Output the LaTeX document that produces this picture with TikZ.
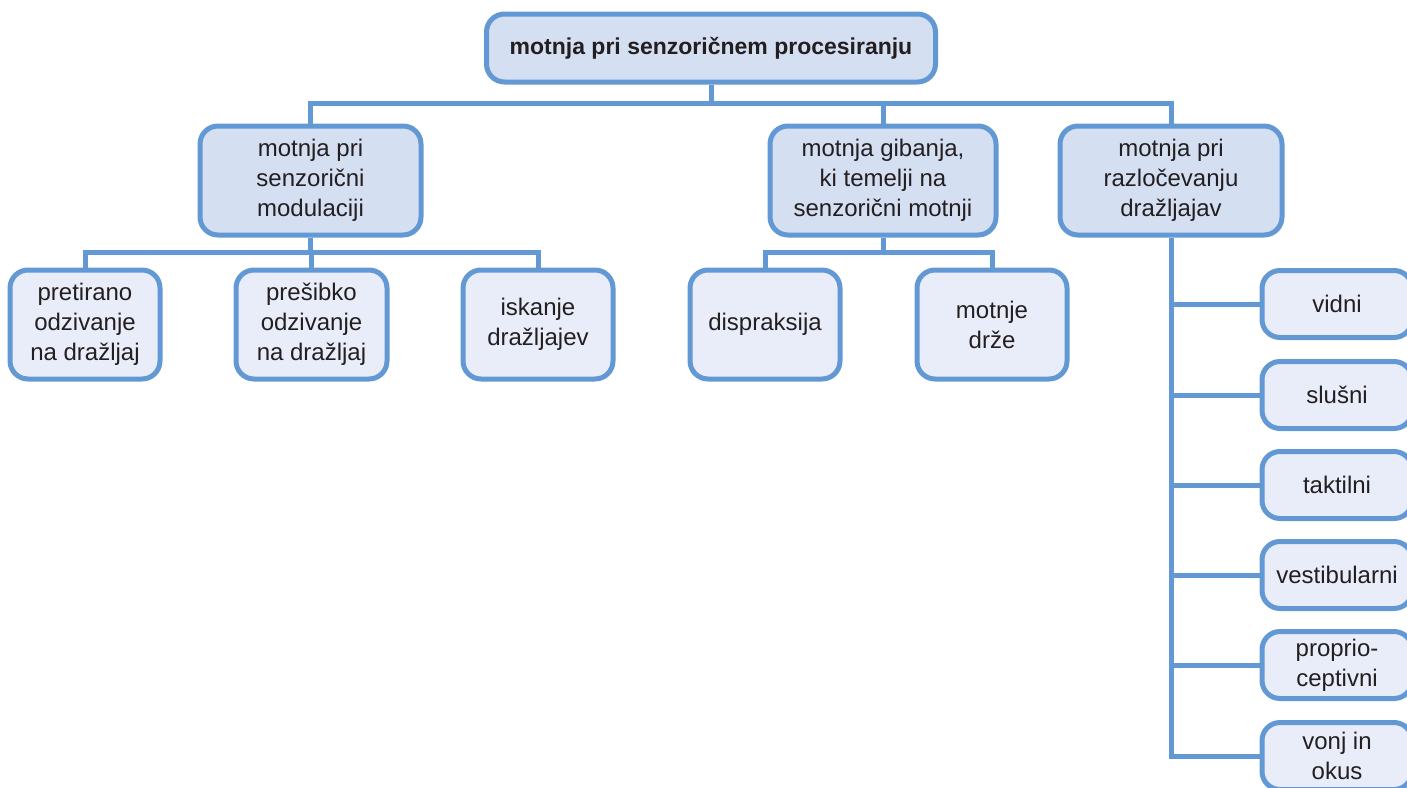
\documentclass[tikz,border=0pt]{standalone}
\usepackage{fontspec}
\setmainfont{Liberation Sans}
\definecolor{edge}{RGB}{98,152,212}
\definecolor{fillA}{RGB}{213,223,242}
\definecolor{fillB}{RGB}{233,237,249}
\definecolor{ink}{RGB}{35,31,32}
\tikzset{
  box/.style={draw=edge, line width=5pt, rounded corners=18pt, text=ink, align=center,
    font=\fontsize{24}{30}\selectfont, inner sep=0pt},
  headbox/.style={box, fill=fillA},
  leafbox/.style={box, fill=fillB},
  link/.style={draw=edge, line width=5pt}
}
\begin{document}
\begin{tikzpicture}[x=1pt,y=-1pt]
\useasboundingbox (0,0) rectangle (1407,787);
% root
\node[headbox, minimum width=449pt, minimum height=68pt, font=\fontsize{23}{30}\selectfont\bfseries] (root) at (711,48) {motnja pri senzoričnem procesiranju};
% level 2
\node[headbox, minimum width=221pt, minimum height=109pt] (A) at (310.5,180.5) {motnja pri\\senzorični\\modulaciji};
\node[headbox, minimum width=226pt, minimum height=109pt] (B) at (883,180.5) {motnja gibanja,\\ki temelji na\\senzorični motnji};
\node[headbox, minimum width=222pt, minimum height=109pt] (C) at (1171,180.5) {motnja pri\\razločevanju\\dražljajav};
% children of A
\node[leafbox, minimum width=150pt, minimum height=109pt] (A1) at (85,324.5) {pretirano\\odzivanje\\na dražljaj};
\node[leafbox, minimum width=151pt, minimum height=109pt] (A2) at (311.5,324.5) {prešibko\\odzivanje\\na dražljaj};
\node[leafbox, minimum width=150pt, minimum height=109pt] (A3) at (538,324.5) {iskanje\\dražljajev};
% children of B
\node[leafbox, minimum width=150pt, minimum height=109pt] (B1) at (765,324.5) {dispraksija};
\node[leafbox, minimum width=150pt, minimum height=109pt] (B2) at (992,324.5) {motnje\\drže};
% children of C
\node[leafbox, minimum width=150pt, minimum height=67pt] (C1) at (1337,304) {vidni};
\node[leafbox, minimum width=150pt, minimum height=67pt] (C2) at (1337,395) {slušni};
\node[leafbox, minimum width=150pt, minimum height=67pt] (C3) at (1337,485) {taktilni};
\node[leafbox, minimum width=150pt, minimum height=67pt] (C4) at (1337,575) {vestibularni};
\node[leafbox, minimum width=150pt, minimum height=67pt] (C5) at (1337,665) {proprio-\\ceptivni};
\node[leafbox, minimum width=150pt, minimum height=67pt] (C6) at (1337,756) {vonj in\\okus};
% connectors root
\coordinate (bus1) at (711,103);
\draw[link] (root.south) -- (bus1);
\draw[link] (A.north) |- (bus1) -| (C.north);
\draw[link] (B.north) -- (B.north |- bus1);
% connectors A
\coordinate (busA) at (310,252);
\draw[link] (A.south) -- (A.south |- busA);
\draw[link] (A1.north) |- (busA) -| (A3.north);
\draw[link] (A2.north) -- (A2.north |- busA);
% connectors B
\coordinate (busB) at (883,252);
\draw[link] (B.south) -- (B.south |- busB);
\draw[link] (B1.north) |- (busB) -| (B2.north);
% connectors C
\coordinate (trunk) at (1170,756);
\draw[link] (C.south) -- (C.south |- trunk) -- (C6.west);
\foreach \n in {C1,C2,C3,C4,C5}
  \draw[link] (\n.west) -- (C.south |- \n.west);
\end{tikzpicture}
\end{document}
